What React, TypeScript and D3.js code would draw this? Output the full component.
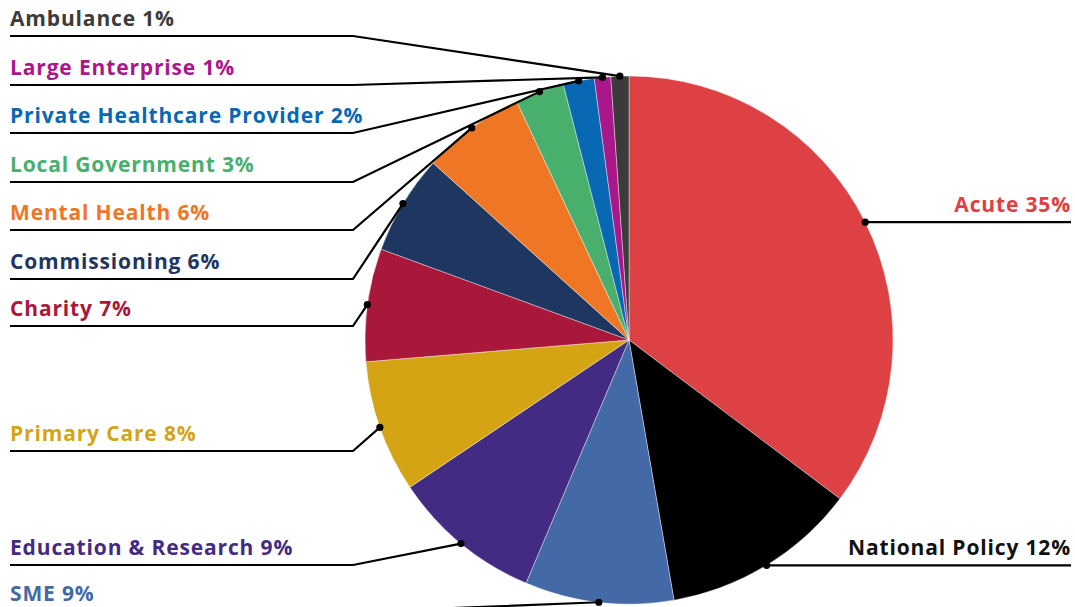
import React from "react";
import * as d3 from "d3";

const categories = [
  "Acute",
  "National Policy",
  "SME",
  "Education & Research",
  "Primary Care",
  "Charity",
  "Commissioning",
  "Mental Health",
  "Local Government",
  "Private Healthcare Provider",
  "Large Enterprise",
  "Ambulance",
];
const values = [35.25, 12, 9.1, 9.2, 8.1, 6.9, 6.1, 6.3, 3.0, 1.9, 1.0, 1.1];
const pctLabels = ["35%", "12%", "9%", "9%", "8%", "7%", "6%", "6%", "3%", "2%", "1%", "1%"];
const colors = [
  "#de4143",
  "#000000",
  "#4369a6",
  "#432a82",
  "#d4a414",
  "#a9173a",
  "#1f3661",
  "#ee7624",
  "#48b06c",
  "#0868b3",
  "#a9178a",
  "#3d3a3a",
];
const textColors = [
  "#de4143",
  "#111111",
  "#4369a6",
  "#432a82",
  "#d4a414",
  "#a9173a",
  "#1f3661",
  "#ee7624",
  "#48b06c",
  "#0868b3",
  "#a9178a",
  "#3d3a3a",
];

// layout (not data): side of each label and the y of its underline for left labels
const layout = {
  width: 1075,
  height: 607,
  cx: 629,
  cy: 340,
  r: 264,
  leftX: 10,
  elbowX: 353,
  rightX: 1071,
  leftLineY: {
    Ambulance: 36,
    "Large Enterprise": 85,
    "Private Healthcare Provider": 133,
    "Local Government": 182,
    "Mental Health": 230,
    Commissioning: 279,
    Charity: 326,
    "Primary Care": 451,
    "Education & Research": 565,
    SME: 612,
  } as Record<string, number>,
  rightSide: ["Acute", "National Policy"],
};

export default function App() {
  const { width, height, cx, cy, r } = layout;
  const data = categories.map((c, i) => ({ c, v: values[i], i }));
  const pie = d3
    .pie<{ c: string; v: number; i: number }>()
    .sort(null)
    .value((d) => d.v);
  const arcs = pie(data);
  const arcGen = d3
    .arc<d3.PieArcDatum<{ c: string; v: number; i: number }>>()
    .innerRadius(0)
    .outerRadius(r);

  const font = "'Open Sans', sans-serif";

  return (
    <svg
      width={width}
      height={height}
      style={{ position: "fixed", left: 0, top: 0, display: "block", background: "#fff" }}
    >
      <g transform={`translate(${cx},${cy})`}>
        {arcs.map((a) => (
          <path
            key={a.data.c}
            d={arcGen(a) || ""}
            fill={colors[a.data.i]}
            stroke="#ffffff"
            strokeWidth={0.4}
          />
        ))}
      </g>
      {arcs.map((a) => {
        const mid = (a.startAngle + a.endAngle) / 2;
        const px = cx + r * Math.sin(mid);
        const py = cy - r * Math.cos(mid);
        const name = a.data.c;
        const label = `${name} ${pctLabels[a.data.i]}`;
        const isRight = layout.rightSide.includes(name);
        let pts: [number, number][];
        let tx: number;
        let ty: number;
        let anchor: "start" | "end";
        if (isRight) {
          pts = [
            [px, py],
            [layout.rightX, py],
          ];
          tx = layout.rightX;
          ty = py - 10;
          anchor = "end";
        } else {
          const ly = layout.leftLineY[name];
          pts = [
            [px, py],
            [layout.elbowX, ly],
            [layout.leftX, ly],
          ];
          tx = layout.leftX;
          ty = Math.min(ly - 10, 601);
          anchor = "start";
        }
        const line = d3.line()(pts) || "";
        return (
          <g key={name}>
            <path d={line} fill="none" stroke="#000" strokeWidth={2.2} strokeLinejoin="miter" />
            <circle cx={px} cy={py} r={3.6} fill="#000" />
            <text
              x={tx}
              y={ty}
              textAnchor={anchor}
              fill={textColors[a.data.i]}
              fontFamily={font}
              fontWeight={700}
              fontSize={21}
              letterSpacing={0.85}
            >
              {label}
            </text>
          </g>
        );
      })}
    </svg>
  );
}
